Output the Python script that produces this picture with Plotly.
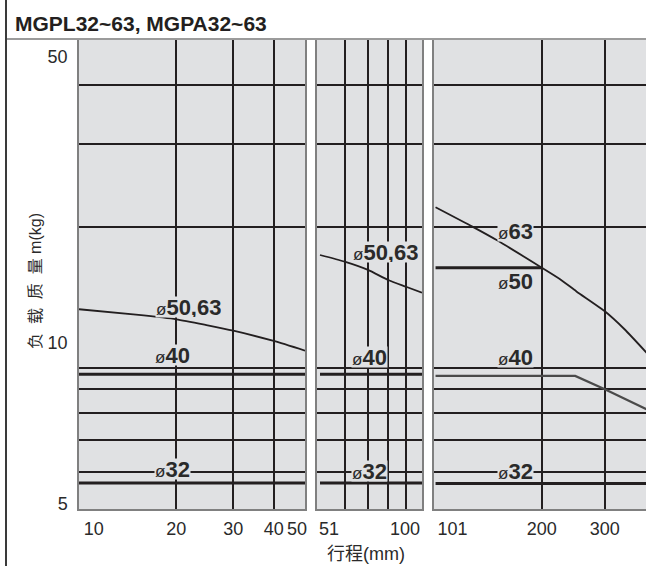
import math
import plotly.graph_objects as go

# ---------------- data ----------------
# y axis (load, kg) - log scale 5..50
y_grid = [6, 7, 8, 9, 10, 20, 30, 40]
y_tick_text = ["50", "10", "5"]
y_tick_vals = [46.0, 11.3, 5.12]

# panel 1 : stroke 10..50
p1_x_grid = [20, 30, 40]
p1_tick_text = ["10", "20", "30", "40", "50"]
p1_tick_vals = [11.1, 20, 30, 40, 47.2]
p1_stroke = [10, 15, 20, 25, 30, 40, 50]
p1_load_50_63 = [13.33, 12.98, 12.69, 12.32, 12.0, 11.41, 10.88]
p1_flat_stroke = [10, 50]
p1_load_40 = [9.69, 9.69]
p1_load_32 = [5.68, 5.68]

# panel 2 : stroke 51..100
p2_x_grid = [60, 70, 80, 90]
p2_tick_text = ["51", "100"]
p2_tick_vals = [54.1, 89.4]
p2_stroke = [51, 60, 70, 80, 90, 100]
p2_load_50_63 = [17.40, 16.84, 16.17, 15.39, 14.89, 14.46]
p2_flat_stroke = [51, 100]
p2_load_40 = [9.69, 9.69]
p2_load_32 = [5.68, 5.68]

# panel 3 : stroke 101..
p3_x_grid = [200, 300]
p3_tick_text = ["101", "200", "300"]
p3_tick_vals = [112.6, 200, 300]
p3_stroke_63 = [101, 128, 150, 200, 225, 250, 300, 340, 400]
p3_load_63 = [22.0, 20.0, 18.7, 16.35, 15.45, 14.55, 13.2, 12.1, 10.6]
p3_stroke_50 = [101, 200]
p3_load_50 = [16.35, 16.35]
p3_stroke_40 = [101, 248, 300, 400]
p3_load_40 = [9.61, 9.61, 9.0, 8.1]
p3_stroke_32 = [101, 400]
p3_load_32 = [5.67, 5.67]

# curve labels: (axis suffix, label, stroke, load)
labels = [
    ("", "50,63", 21.8, 13.5),
    ("", "40", 19.5, 10.65),
    ("", "32", 19.5, 6.08),
    ("2", "50,63", 78.5, 17.62),
    ("2", "40", 70.8, 10.52),
    ("2", "32", 70.8, 6.03),
    ("3", "63", 169, 19.62),
    ("3", "50", 169, 15.31),
    ("3", "40", 169, 10.52),
    ("3", "32", 169, 6.03),
]

# ---------------- styling ----------------
W, H = 646, 566
FONT = "Liberation Sans, Arial, Noto Sans CJK SC, sans-serif"
INK = "#231f20"
PANEL = "#e0e1e3"
FRAME = "#808080"

fig = go.Figure()

def line(x, y, ax, width, color=INK):
    fig.add_trace(go.Scatter(
        x=x, y=y, mode="lines", xaxis="x" + ax, yaxis="y" + ax,
        line=dict(color=color, width=width, shape="spline", smoothing=0.6) if len(x) > 2 and color == INK
        else dict(color=color, width=width),
        showlegend=False, hoverinfo="skip"))

line(p1_stroke, p1_load_50_63, "", 1.8)
line(p1_flat_stroke, p1_load_40, "", 3)
line(p1_flat_stroke, p1_load_32, "", 3)
line(p2_stroke, p2_load_50_63, "2", 1.8)
line(p2_flat_stroke, p2_load_40, "2", 3)
line(p2_flat_stroke, p2_load_32, "2", 3)
line(p3_stroke_63, p3_load_63, "3", 1.8)
line(p3_stroke_50, p3_load_50, "3", 3)
line(p3_stroke_40, p3_load_40, "3", 2.2, "#4a4a4a")
line(p3_stroke_32, p3_load_32, "3", 3)

px = lambda v: v / W
py = lambda v: 1 - v / H

ydom = [py(509), py(40)]
TICKFONT = dict(family=FONT, size=18, color="#2a2a2a")

def xaxis_cfg(dom, rng, tv, tt, grid, anchor):
    return dict(
        domain=dom, type="log", range=rng, anchor=anchor, automargin=False,
        tickmode="array", tickvals=tv, ticktext=tt,
        showgrid=False, zeroline=False, ticks="", ticklabelstandoff=3, tickfont=TICKFONT,
        showline=True, linecolor=FRAME, linewidth=1.5, mirror=False,
        minor=dict(tickmode="array", tickvals=grid, showgrid=True, gridcolor=INK, gridwidth=2, ticks=""),
    )

def yaxis_cfg(anchor, labels_on, mirror=True):
    d = dict(
        domain=ydom, type="log", range=[math.log10(5), math.log10(50)], anchor=anchor, automargin=False,
        showgrid=False, zeroline=False, ticks="",
        showline=True, linecolor=FRAME, linewidth=1.5, mirror=mirror,
        minor=dict(tickmode="array", tickvals=y_grid, showgrid=True, gridcolor=INK, gridwidth=2, ticks=""),
    )
    if labels_on:
        d.update(tickmode="array", tickvals=y_tick_vals, ticktext=y_tick_text,
                 ticklabelstandoff=6, tickfont=TICKFONT)
    else:
        d.update(showticklabels=False)
    return d

fig.update_layout(
    width=W, height=H, margin=dict(l=0, r=0, t=0, b=0, autoexpand=False),
    paper_bgcolor="white", plot_bgcolor=PANEL,
    font=dict(family=FONT, color=INK),
    xaxis=xaxis_cfg([px(79), px(305)], [1, math.log10(50)], p1_tick_vals, p1_tick_text, p1_x_grid, "y"),
    xaxis2=xaxis_cfg([px(317), px(422)], [math.log10(50), 2], p2_tick_vals, p2_tick_text, p2_x_grid, "y2"),
    xaxis3=xaxis_cfg([px(434), 1.0], [2, 2 + 212 / 358], p3_tick_vals, p3_tick_text, p3_x_grid, "y3"),
    yaxis=yaxis_cfg("x", True),
    yaxis2=yaxis_cfg("x2", False),
    yaxis3=yaxis_cfg("x3", False, mirror=False),
)

ann = []
for ax, txt, xs, ys in labels:
    ann.append(dict(
        xref="x" + ax, yref="y" + ax, x=math.log10(xs), y=math.log10(ys),
        text='<span style="font-size:17px">ø</span><b>' + txt + '</b>',
        showarrow=False, font=dict(family=FONT, size=22, color="#2a2a2a"),
        bgcolor=PANEL, borderpad=0, height=20, xanchor="center", yanchor="middle"))

sp = "\u00a0\u00a0"
ann.append(dict(xref="paper", yref="paper", x=px(13), y=py(24), xanchor="left", yanchor="middle",
                text="<b>MGPL32~63, MGPA32~63</b>", showarrow=False,
                font=dict(family=FONT, size=21, color="#231f20")))
ann.append(dict(xref="paper", yref="paper", x=px(35), y=py(281), xanchor="center", yanchor="middle",
                text="负" + sp + "载" + sp + "质" + sp + "量\u00a0m(kg)", textangle=-90, showarrow=False,
                font=dict(family=FONT, size=16, color="#2a2a2a")))
ann.append(dict(xref="paper", yref="paper", x=px(366), y=py(554), xanchor="center", yanchor="middle",
                text="行程(mm)", showarrow=False,
                font=dict(family=FONT, size=18, color="#2a2a2a")))
fig.update_layout(annotations=ann)

fig.update_layout(shapes=[
    dict(type="line", xref="paper", yref="paper", x0=px(5), x1=1, y0=py(39), y1=py(39),
         line=dict(color="#7a7a7a", width=1.5)),
    dict(type="line", xref="paper", yref="paper", x0=px(6), x1=px(6), y0=0, y1=1,
         line=dict(color="#3a3a3a", width=2)),
])

fig.write_html("out.html", config={"displayModeBar": False},
               post_script="document.body.style.margin='0';document.body.style.overflow='hidden';")
